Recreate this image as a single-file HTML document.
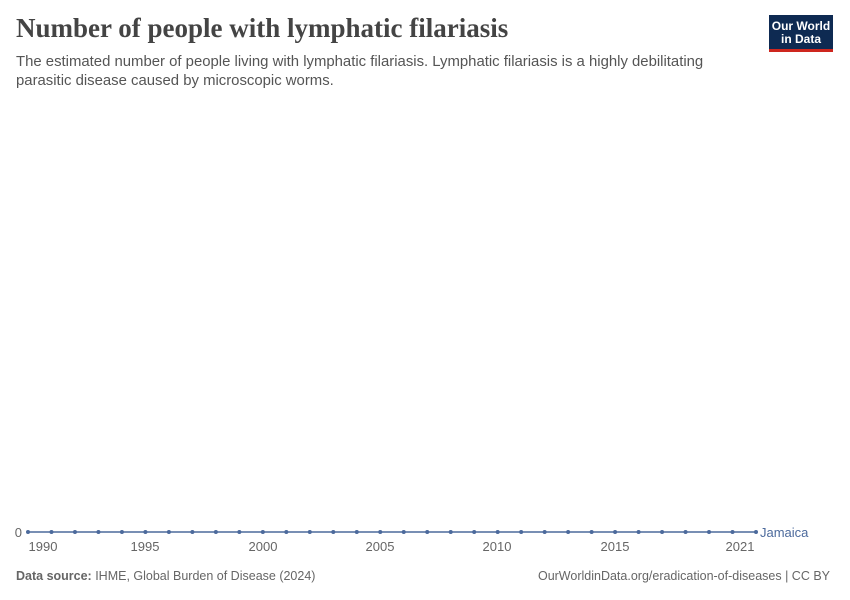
<!DOCTYPE html>
<html><head><meta charset="utf-8"><style>
body{margin:0;background:#fff;width:850px;height:600px;overflow:hidden;font-family:"Liberation Sans",sans-serif;position:relative}
.t{position:absolute;left:16px;top:13px;font-family:"Liberation Serif",serif;font-size:27px;color:#444;font-weight:bold}
.s{position:absolute;left:16px;top:53px;font-size:14.9px;color:#555;line-height:19px;width:740px}
.logo{position:absolute;left:769px;top:15px;width:64px;background:#0e2a52;border-bottom:3px solid #ce261e;color:#fff;font-size:12px;font-weight:bold;line-height:13px;text-align:center;padding-top:5px;height:29px}
.f{position:absolute;top:569px;font-size:12.5px;color:#666}
</style></head><body>
<div class="t">Number of people with lymphatic filariasis</div>
<div class="s">The estimated number of people living with lymphatic filariasis. Lymphatic filariasis is a highly debilitating parasitic disease caused by microscopic worms.</div>
<div class="logo">Our World<br>in Data</div>
<svg width="850" height="600" style="position:absolute;left:0;top:0" font-family="Liberation Sans, sans-serif">
<text x="22" y="537" font-size="13" fill="#666" text-anchor="end">0</text>
<line x1="28" y1="532" x2="756" y2="532" stroke="#4c6a9c" stroke-width="1.5"/>
<g fill="#4c6a9c" id="d"></g>
<g font-size="13" fill="#666" text-anchor="middle">
<text x="43" y="551">1990</text><text x="145" y="551">1995</text><text x="263" y="551">2000</text><text x="380" y="551">2005</text><text x="497" y="551">2010</text><text x="615" y="551">2015</text><text x="740" y="551">2021</text>
</g>
<text x="760" y="537" font-size="13" fill="#4c6a9c">Jamaica</text>
</svg>
<div class="f" style="left:16px"><b>Data source:</b> IHME, Global Burden of Disease (2024)</div>
<div class="f" style="right:20px">OurWorldinData.org/eradication-of-diseases | CC BY</div>
<script>
var g=document.getElementById('d'),h='';
for(var i=0;i<32;i++){h+='<circle cx="'+(28+i*728/31)+'" cy="532" r="2"/>';}
g.innerHTML=h;
</script>
</body></html>
